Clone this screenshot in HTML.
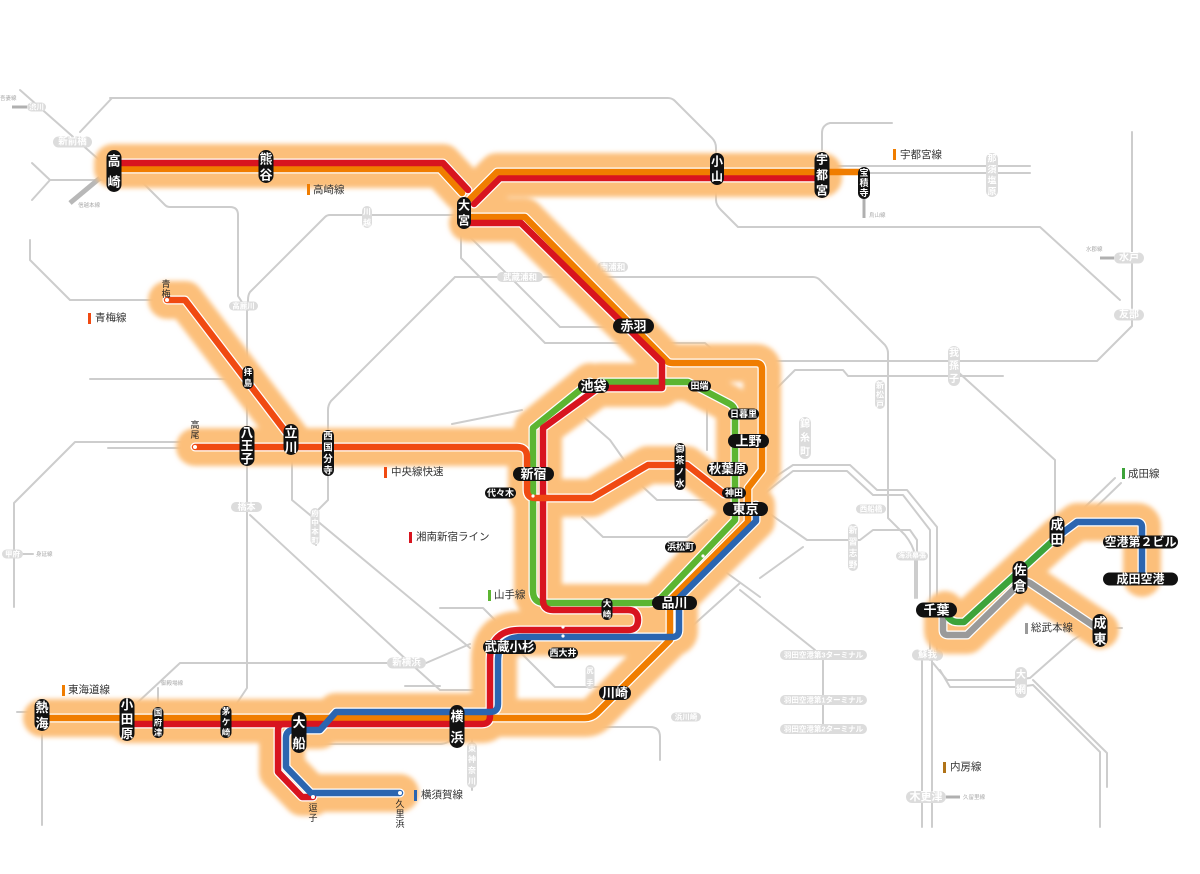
<!DOCTYPE html>
<html><head><meta charset="utf-8">
<style>
html,body{margin:0;padding:0;background:#fff;}
svg{display:block;}
text{font-family:"Liberation Sans","Noto Sans CJK JP",sans-serif;}
.g{fill:none;stroke:#cdcdcd;stroke-width:2;stroke-linejoin:round;stroke-linecap:round}
.halo{fill:none;stroke:#fcbf7a;stroke-width:38;stroke-linecap:round;stroke-linejoin:round}
.case{fill:none;stroke:#fff;stroke-width:9;stroke-linecap:round;stroke-linejoin:round}
.ln{fill:none;stroke-width:6.5;stroke-linecap:round;stroke-linejoin:round}
.w{fill:#fff;font-weight:bold;text-anchor:middle;dominant-baseline:central}
.lg{fill:#333;font-size:10.5px;dominant-baseline:central}
.tl{fill:#aaa;font-size:5.5px;dominant-baseline:central}
.gp{fill:#dcdcdc}
.bk{fill:#111}
</style></head>
<body>
<svg width="1200" height="874" viewBox="0 0 1200 874" xmlns="http://www.w3.org/2000/svg">
<defs>
<filter id="blur" x="-10%" y="-10%" width="120%" height="120%"><feGaussianBlur stdDeviation="2.5"/></filter>
<path id="r_tak" d="M113,163 H443 L468,190"/>
<path id="o_tak" d="M113,169 H440 L462,193"/>
<path id="o_uts" d="M823,172 H497 L470,199"/>
<path id="r_uts" d="M823,178 H500 L474,204"/>
<path id="o_hot" d="M823,172 H862"/>
<path id="r_main" d="M468,223 H521 L662,362 V388 H598 L543,428 V600 Q543,610 553,610 H628 Q638,610 638,620 Q638,630 628,630 H520 Q490,630 490,660 V716 Q490,724 482,724 H127"/>
<path id="o_main" d="M470,217 H525 L668,362 Q670,363 673,363 H756 Q762,363 762,369 V470 L748,488 V522 L670,600 V640 L597,713 Q592,718 585,718 H42"/>
<path id="g_yam" d="M600,382 H688 L730,404 Q735,407 735,413 V520 L661,598 Q656,603 649,603 H545 Q533,603 533,591 V428 L590,382"/>
<path id="c_chuo" d="M195,447 H517 Q527,447 527,457 V490 Q527,498 535,498 H592 L648,465 H687 L724,494"/>
<path id="c_ome" d="M167,300 H185 L292,440"/>
<path id="b_yok" d="M756,505 V521 L679,598 V630 Q679,637 672,637 H522 Q498,637 498,661 V704 Q498,712 490,712 H336 L320,730 H294 Q286,730 286,738 V767 L311,793 H400"/>
<path id="r_zushi" d="M300,724 H284 Q278,724 278,730 V772 L302,797 H313"/>
<path id="b_nrt" d="M1057,537 L1077,522 H1137 Q1142,522 1142,527 V578"/>
<path id="g_nrt" d="M945,610 Q948,622 958,622 H964 L1057,537"/>
<path id="s_sobu" d="M943,613 V630 Q943,635 948,635 H967 L1020,583 Q1025,580 1030,583 L1100,630"/>
</defs>

<rect width="1200" height="874" fill="#fff"/>

<!-- gray network -->
<g class="g">
<path d="M20,90 L105,165"/>
<path d="M112,98 L80,132"/>
<path d="M110,98 H668 Q672,98 675,101 L712,138 Q716,142 716,148 V155"/>
<path d="M32,163 L50,180 L32,200 M50,180 H103"/>
<path d="M143,183 L165,205 Q167,207 170,207 H230 Q238,207 238,215 V296 L247,310 V688 L237,703"/>
<path d="M456,215 H330 Q327,215 325,217 L250,292 Q248,295 248,300 V310"/>
<path d="M30,240 V260 L70,300 H160"/>
<path d="M90,379 H245"/>
<path d="M75,442 H182 M108,448 H182 M75,442 L14,503 V607"/>
<path d="M23,554 H33"/>
<path d="M455,277 H813 Q817,277 820,280 L885,345 Q888,349 888,353 V518 L905,535 Q913,545 915,555 V598"/>
<path d="M455,277 L331,401 Q328,405 328,410 V500 L316,512 V545"/>
<path d="M292,460 V500 L470,648 M520,652 L555,687 H600"/>
<path d="M250,515 L410,663 L440,690 H482 M405,686 H440"/>
<path d="M137,703 L180,663 H388 M426,663 L470,644"/>
<path d="M312,744 H440 Q448,744 452,738"/>
<path d="M472,700 V790"/>
<path d="M17,712 H42 M42,731 V825"/>
<path d="M158,688 V705"/>
<path d="M716,190 V200 Q716,205 721,210 L738,227 H1040 L1120,300"/>
<path d="M770,361 H1097 L1132,326 V132"/>
<path d="M777,388 L795,370 H843 L848,376 H1003"/>
<path d="M958,372 L1055,460 V517"/>
<path d="M822,150 V133 Q822,125 830,123 H892"/>
<path d="M830,166 H1030 M870,173 H1030"/>
<path d="M461,230 V258 L545,343 H705 L722,358"/>
<path d="M470,237 L560,327 H612"/>
<path d="M452,424 L522,410"/>
<path d="M585,418 L610,440 L643,487 L657,500 H710 L730,497"/>
<path d="M582,517 L603,537 H687 L707,520"/>
<path d="M707,405 V450"/>
<path d="M760,487 L793,465 H850 L877,490 H907 L937,527 V660"/>
<path d="M760,497 L793,471 H847 L873,495 H903 L930,530 V660"/>
<path d="M760,507 L807,540 H860 L873,530 H910 L917,540 V598"/>
<path d="M760,578 L803,547 M727,573 L760,597 M690,628 L740,583"/>
<path d="M740,590 L815,650 M823,660 V724"/>
<path d="M922,660 V827 M932,660 V827"/>
<path d="M933,663 L947,680 H1013 L1030,678 L1073,640 L1093,627"/>
<path d="M940,670 L950,687 H1017 L1033,685 L1100,752 V827"/>
<path d="M1033,680 L1107,753 V787"/>
<path d="M1085,507 L1115,478 M1091,512 L1121,483"/>
<path d="M1108,628 H1122"/>
<path d="M600,727 H650 Q660,727 660,737 V760"/>
<path d="M440,608 H483 L495,620"/>
</g>
<path d="M70,203 L100,178" stroke="#b8b8b8" stroke-width="5" fill="none"/>
<path d="M864,199 V218 M946,797 H960 M1114,258 H1100 M27,107 H12" stroke="#b0b0b0" stroke-width="3" fill="none"/>

<!-- gray stations -->
<g>
<rect class="gp" x="53" y="136.5" width="39" height="11" rx="5.5"/><text class="w" x="72.5" y="142" font-size="9.5">新前橋</text>
<rect class="gp" x="27" y="102.5" width="19" height="9" rx="4.5"/><text class="w" x="36.5" y="107" font-size="7.5">渋川</text>
<rect class="gp" x="229" y="301.5" width="29" height="9" rx="4.5"/><text class="w" x="243.5" y="306" font-size="7.5">高麗川</text>
<rect class="gp" x="497" y="272" width="46" height="10" rx="5"/><text class="w" x="520" y="277" font-size="8.5">武蔵浦和</text>
<rect class="gp" x="597" y="262" width="31" height="10" rx="5"/><text class="w" x="612.5" y="267" font-size="8.5">南浦和</text>
<rect class="gp" x="856" y="504.5" width="30" height="9" rx="4.5"/><text class="w" x="871" y="509" font-size="7.5">西船橋</text>
<rect class="gp" x="896" y="551.5" width="32" height="9" rx="4.5"/><text class="w" x="912" y="556" font-size="7">海浜幕張</text>
<rect class="gp" x="912" y="649.5" width="31" height="11" rx="5.5"/><text class="w" x="927.5" y="655" font-size="9.5">蘇我</text>
<rect class="gp" x="906" y="791" width="40" height="12" rx="6"/><text class="w" x="926" y="797" font-size="11">木更津</text>
<rect class="gp" x="1114" y="252.5" width="30" height="11" rx="5.5"/><text class="w" x="1129" y="258" font-size="10">水戸</text>
<rect class="gp" x="1114" y="309.5" width="30" height="11" rx="5.5"/><text class="w" x="1129" y="315" font-size="10">友部</text>
<rect class="gp" x="231" y="502" width="31" height="10" rx="5"/><text class="w" x="246.5" y="507" font-size="9">橋本</text>
<rect class="gp" x="387" y="657.5" width="39" height="11" rx="5.5"/><text class="w" x="406.5" y="663" font-size="9.5">新横浜</text>
<rect class="gp" x="671" y="712.5" width="30" height="9" rx="4.5"/><text class="w" x="686" y="717" font-size="7.5">浜川崎</text>
<rect class="gp" x="780" y="650" width="87" height="10" rx="5"/><text class="w" x="823.5" y="655" font-size="7.5">羽田空港第3ターミナル</text>
<rect class="gp" x="780" y="695" width="87" height="10" rx="5"/><text class="w" x="823.5" y="700" font-size="7.5">羽田空港第1ターミナル</text>
<rect class="gp" x="780" y="724" width="87" height="10" rx="5"/><text class="w" x="823.5" y="729" font-size="7.5">羽田空港第2ターミナル</text>
<rect class="gp" x="2" y="549.5" width="21" height="9" rx="4.5"/><text class="w" x="12.5" y="554" font-size="7.5">甲府</text>

<rect class="gp" x="362" y="206" width="10" height="22" rx="5"/><text class="w" font-size="8"><tspan x="367" y="211.5">川</tspan><tspan x="367" y="222.5">越</tspan></text>
<rect class="gp" x="986" y="153" width="12" height="44" rx="6"/><text class="w" font-size="9"><tspan x="992" y="158.5">那</tspan><tspan x="992" y="169.5">須</tspan><tspan x="992" y="180.5">塩</tspan><tspan x="992" y="191.5">原</tspan></text>
<rect class="gp" x="948" y="346" width="12" height="40" rx="6"/><text class="w" font-size="10"><tspan x="954" y="353">我</tspan><tspan x="954" y="366">孫</tspan><tspan x="954" y="379">子</tspan></text>
<rect class="gp" x="875" y="380" width="10" height="29" rx="5"/><text class="w" font-size="8"><tspan x="880" y="385">新</tspan><tspan x="880" y="394.5">松</tspan><tspan x="880" y="404">戸</tspan></text>
<rect class="gp" x="799" y="417" width="12" height="42" rx="6"/><text class="w" font-size="10"><tspan x="805" y="424">錦</tspan><tspan x="805" y="438">糸</tspan><tspan x="805" y="452">町</tspan></text>
<rect class="gp" x="848" y="524" width="10" height="47" rx="5"/><text class="w" font-size="8.5"><tspan x="853" y="530">新</tspan><tspan x="853" y="541.5">習</tspan><tspan x="853" y="553">志</tspan><tspan x="853" y="564.5">野</tspan></text>
<rect class="gp" x="1015" y="667" width="12" height="31" rx="6"/><text class="w" font-size="10"><tspan x="1021" y="675">大</tspan><tspan x="1021" y="690">網</tspan></text>
<rect class="gp" x="310.5" y="508" width="9" height="37" rx="4.5"/><text class="w" font-size="7.5"><tspan x="315" y="513">府</tspan><tspan x="315" y="522">中</tspan><tspan x="315" y="531">本</tspan><tspan x="315" y="540">町</tspan></text>
<rect class="gp" x="467" y="742" width="10" height="46" rx="5"/><text class="w" font-size="8"><tspan x="472" y="748">東</tspan><tspan x="472" y="759">神</tspan><tspan x="472" y="770">奈</tspan><tspan x="472" y="781">川</tspan></text>
<rect class="gp" x="585.5" y="665" width="9" height="24" rx="4.5"/><text class="w" font-size="7"><tspan x="590" y="671">尻</tspan><tspan x="590" y="683">手</tspan></text>
</g>

<!-- tiny labels -->
<text class="tl" x="0" y="99">吾妻線</text>
<text class="tl" x="78" y="206">信越本線</text>
<text class="tl" x="869" y="216">烏山線</text>
<text class="tl" x="1086" y="250">水郡線</text>
<text class="tl" x="36" y="555">身延線</text>
<text class="tl" x="161" y="684">御殿場線</text>
<text class="tl" x="963" y="798">久留里線</text>

<!-- halo -->
<g filter="url(#blur)">
<use href="#r_tak" class="halo"/><use href="#o_tak" class="halo"/>
<use href="#o_uts" class="halo"/><use href="#r_uts" class="halo"/>
<use href="#r_main" class="halo"/><use href="#o_main" class="halo"/>
<use href="#g_yam" class="halo"/><use href="#c_chuo" class="halo"/>
<use href="#c_ome" class="halo"/><use href="#b_yok" class="halo"/>
<use href="#r_zushi" class="halo"/><use href="#b_nrt" class="halo"/>
<use href="#g_nrt" class="halo"/><use href="#s_sobu" class="halo"/>
</g>

<!-- casings -->
<g>
<use href="#r_tak" class="case"/><use href="#o_tak" class="case"/>
<use href="#o_uts" class="case"/><use href="#r_uts" class="case"/>
<use href="#r_main" class="case"/><use href="#o_main" class="case"/>
<use href="#g_yam" class="case"/><use href="#c_chuo" class="case"/>
<use href="#c_ome" class="case"/><use href="#b_yok" class="case"/>
<use href="#r_zushi" class="case"/><use href="#b_nrt" class="case"/>
<use href="#g_nrt" class="case"/><use href="#s_sobu" class="case"/>
</g>

<!-- colored lines -->
<g>
<use href="#o_tak" class="ln" stroke="#f07d00"/>
<use href="#r_tak" class="ln" stroke="#d8141f"/>
<use href="#r_uts" class="ln" stroke="#d8141f"/>
<use href="#o_uts" class="ln" stroke="#f07d00"/>
<use href="#o_hot" class="ln" stroke="#f07d00"/>
<use href="#g_yam" class="ln" stroke="#5cb531"/>
<use href="#o_main" class="ln" stroke="#f07d00"/>
<use href="#r_main" class="ln" stroke="#d8141f"/>
<use href="#r_zushi" class="ln" stroke="#d8141f"/>
<use href="#b_yok" class="ln" stroke="#2b65b0"/>
<use href="#c_chuo" class="ln" stroke="#f04a12"/>
<use href="#c_ome" class="ln" stroke="#f04a12"/>
<use href="#s_sobu" class="ln" stroke="#9a9a9a"/>
<use href="#g_nrt" class="ln" stroke="#3da33a"/>
<use href="#b_nrt" class="ln" stroke="#2b65b0"/>
</g>

<!-- endpoint dots -->
<g fill="#fff">
<circle cx="195" cy="447" r="2"/><circle cx="167" cy="300" r="2"/>
<circle cx="313" cy="797" r="2"/><circle cx="400" cy="793" r="2"/>
<circle cx="533" cy="496" r="1.6"/><circle cx="563" cy="627" r="1.6"/><circle cx="563" cy="636" r="1.6"/>
<circle cx="703" cy="556" r="1.6"/>
</g>
<text fill="#222" font-size="9" text-anchor="middle" dominant-baseline="central"><tspan x="195" y="425">高</tspan><tspan x="195" y="435">尾</tspan></text>
<text fill="#222" font-size="9" text-anchor="middle" dominant-baseline="central"><tspan x="166" y="284">青</tspan><tspan x="166" y="294">梅</tspan></text>
<text fill="#222" font-size="9" text-anchor="middle" dominant-baseline="central"><tspan x="313" y="808">逗</tspan><tspan x="313" y="818">子</tspan></text>
<text fill="#222" font-size="9" text-anchor="middle" dominant-baseline="central"><tspan x="400" y="804">久</tspan><tspan x="400" y="814">里</tspan><tspan x="400" y="824">浜</tspan></text>

<!-- vertical black pills -->
<g>
<rect class="bk" x="106.5" y="150" width="15" height="42" rx="7.5"/><text class="w" font-size="13"><tspan x="114" y="160.5">高</tspan><tspan x="114" y="181.5">崎</tspan></text>
<rect class="bk" x="258.5" y="150" width="15" height="33" rx="7.5"/><text class="w" font-size="13"><tspan x="266" y="158.5">熊</tspan><tspan x="266" y="174.5">谷</tspan></text>
<rect class="bk" x="710" y="153" width="14" height="32" rx="7"/><text class="w" font-size="12"><tspan x="717" y="161.5">小</tspan><tspan x="717" y="176.5">山</tspan></text>
<rect class="bk" x="814.5" y="152" width="15" height="46" rx="7.5"/><text class="w" font-size="12"><tspan x="822" y="159.5">宇</tspan><tspan x="822" y="175">都</tspan><tspan x="822" y="190.5">宮</tspan></text>
<rect class="bk" x="858" y="167" width="12" height="32" rx="6"/><text class="w" font-size="9"><tspan x="864" y="173">宝</tspan><tspan x="864" y="183">積</tspan><tspan x="864" y="193">寺</tspan></text>
<rect class="bk" x="457" y="197" width="14" height="32" rx="7"/><text class="w" font-size="12"><tspan x="464" y="205.5">大</tspan><tspan x="464" y="220.5">宮</tspan></text>
<rect class="bk" x="239.5" y="426" width="15" height="40" rx="7.5"/><text class="w" font-size="12.5"><tspan x="247" y="433">八</tspan><tspan x="247" y="446">王</tspan><tspan x="247" y="459">子</tspan></text>
<rect class="bk" x="283.5" y="424" width="15" height="31" rx="7.5"/><text class="w" font-size="13"><tspan x="291" y="432">立</tspan><tspan x="291" y="447">川</tspan></text>
<rect class="bk" x="322" y="430" width="12" height="46" rx="6"/><text class="w" font-size="9.5"><tspan x="328" y="436">西</tspan><tspan x="328" y="447.5">国</tspan><tspan x="328" y="459">分</tspan><tspan x="328" y="470.5">寺</tspan></text>
<rect class="bk" x="242.5" y="366" width="11" height="23" rx="5.5"/><text class="w" font-size="8.5"><tspan x="248" y="372">拝</tspan><tspan x="248" y="383">島</tspan></text>
<rect class="bk" x="34.5" y="699" width="15" height="32" rx="7.5"/><text class="w" font-size="13"><tspan x="42" y="707">熱</tspan><tspan x="42" y="723">海</tspan></text>
<rect class="bk" x="119.5" y="698" width="15" height="43" rx="7.5"/><text class="w" font-size="12.5"><tspan x="127" y="705">小</tspan><tspan x="127" y="719.5">田</tspan><tspan x="127" y="734">原</tspan></text>
<rect class="bk" x="152.5" y="707" width="11" height="31" rx="5.5"/><text class="w" font-size="8.5"><tspan x="158" y="712.5">国</tspan><tspan x="158" y="722.5">府</tspan><tspan x="158" y="732.5">津</tspan></text>
<rect class="bk" x="220.5" y="706" width="11" height="32" rx="5.5"/><text class="w" font-size="8.5"><tspan x="226" y="711.5">茅</tspan><tspan x="226" y="722">ケ</tspan><tspan x="226" y="732.5">崎</tspan></text>
<rect class="bk" x="291.5" y="712" width="15" height="41" rx="7.5"/><text class="w" font-size="13"><tspan x="299" y="722">大</tspan><tspan x="299" y="743">船</tspan></text>
<rect class="bk" x="449.5" y="705" width="15" height="43" rx="7.5"/><text class="w" font-size="13"><tspan x="457" y="716">横</tspan><tspan x="457" y="737">浜</tspan></text>
<rect class="bk" x="674.5" y="443" width="11" height="47" rx="5.5"/><text class="w" font-size="9"><tspan x="680" y="449">御</tspan><tspan x="680" y="460.5">茶</tspan><tspan x="680" y="472">ノ</tspan><tspan x="680" y="483.5">水</tspan></text>
<rect class="bk" x="601.5" y="598" width="11" height="22" rx="5.5"/><text class="w" font-size="8.5"><tspan x="607" y="603.5">大</tspan><tspan x="607" y="614.5">崎</tspan></text>
<rect class="bk" x="1012.5" y="561" width="15" height="33" rx="7.5"/><text class="w" font-size="13"><tspan x="1020" y="569.5">佐</tspan><tspan x="1020" y="585.5">倉</tspan></text>
<rect class="bk" x="1049.5" y="516" width="15" height="31" rx="7.5"/><text class="w" font-size="13"><tspan x="1057" y="524">成</tspan><tspan x="1057" y="539">田</tspan></text>
<rect class="bk" x="1092.5" y="614" width="15" height="33" rx="7.5"/><text class="w" font-size="13"><tspan x="1100" y="622.5">成</tspan><tspan x="1100" y="638.5">東</tspan></text>
</g>

<!-- horizontal black pills -->
<g>
<rect class="bk" x="613" y="318.5" width="41" height="15" rx="7.5"/><text class="w" x="633.5" y="326" font-size="13">赤羽</text>
<rect class="bk" x="578" y="379" width="31" height="14" rx="7"/><text class="w" x="593.5" y="386" font-size="13">池袋</text>
<rect class="bk" x="688" y="380.5" width="23" height="11" rx="5.5"/><text class="w" x="699.5" y="386" font-size="9">田端</text>
<rect class="bk" x="728" y="408.5" width="31" height="11" rx="5.5"/><text class="w" x="743.5" y="414" font-size="9">日暮里</text>
<rect class="bk" x="728" y="434" width="41" height="14" rx="7"/><text class="w" x="748.5" y="441" font-size="13">上野</text>
<rect class="bk" x="707" y="462" width="41" height="14" rx="7"/><text class="w" x="727.5" y="469" font-size="12.5">秋葉原</text>
<rect class="bk" x="722" y="487.5" width="24" height="11" rx="5.5"/><text class="w" x="734" y="493" font-size="9">神田</text>
<rect class="bk" x="723" y="502" width="45" height="14" rx="7"/><text class="w" x="745.5" y="509" font-size="13">東京</text>
<rect class="bk" x="513" y="467" width="41" height="14" rx="7"/><text class="w" x="533.5" y="474" font-size="13">新宿</text>
<rect class="bk" x="485" y="487.5" width="31" height="11" rx="5.5"/><text class="w" x="500.5" y="493" font-size="9">代々木</text>
<rect class="bk" x="665" y="541.5" width="31" height="11" rx="5.5"/><text class="w" x="680.5" y="547" font-size="9">浜松町</text>
<rect class="bk" x="652" y="596" width="45" height="14" rx="7"/><text class="w" x="674.5" y="603" font-size="13">品川</text>
<rect class="bk" x="483" y="640" width="53" height="14" rx="7"/><text class="w" x="509.5" y="647" font-size="12.5">武蔵小杉</text>
<rect class="bk" x="548" y="647.5" width="30" height="11" rx="5.5"/><text class="w" x="563" y="653" font-size="9">西大井</text>
<rect class="bk" x="599" y="686" width="32" height="14" rx="7"/><text class="w" x="615" y="693" font-size="13">川崎</text>
<rect class="bk" x="916" y="602.5" width="41" height="15" rx="7.5"/><text class="w" x="936.5" y="610" font-size="13">千葉</text>
<rect class="bk" x="1103" y="535.5" width="75" height="13" rx="6.5"/><text class="w" x="1140.5" y="542" font-size="12">空港第２ビル</text>
<rect class="bk" x="1103" y="572.5" width="75" height="13" rx="6.5"/><text class="w" x="1140.5" y="579" font-size="12">成田空港</text>
</g>

<!-- legend -->
<g>
<rect x="893" y="149" width="3" height="11" fill="#f07d00"/><text class="lg" x="900" y="155">宇都宮線</text>
<rect x="307" y="184" width="3" height="11" fill="#f07d00"/><text class="lg" x="313" y="190">高崎線</text>
<rect x="88" y="313" width="3" height="11" fill="#f04a12"/><text class="lg" x="95" y="318">青梅線</text>
<rect x="384" y="467" width="3" height="11" fill="#f04a12"/><text class="lg" x="391" y="472">中央線快速</text>
<rect x="409" y="532" width="3" height="11" fill="#d8141f"/><text class="lg" x="416" y="537">湘南新宿ライン</text>
<rect x="488" y="590" width="3" height="11" fill="#5cb531"/><text class="lg" x="494" y="595">山手線</text>
<rect x="1122" y="468" width="3" height="11" fill="#3da33a"/><text class="lg" x="1128" y="474">成田線</text>
<rect x="1025" y="623" width="3" height="11" fill="#9a9a9a"/><text class="lg" x="1031" y="628">総武本線</text>
<rect x="62" y="685" width="3" height="11" fill="#f07d00"/><text class="lg" x="68" y="690">東海道線</text>
<rect x="414" y="790" width="3" height="11" fill="#2b65b0"/><text class="lg" x="421" y="795">横須賀線</text>
<rect x="943" y="762" width="3" height="11" fill="#b07318"/><text class="lg" x="950" y="767">内房線</text>
</g>
</svg>
</body></html>
